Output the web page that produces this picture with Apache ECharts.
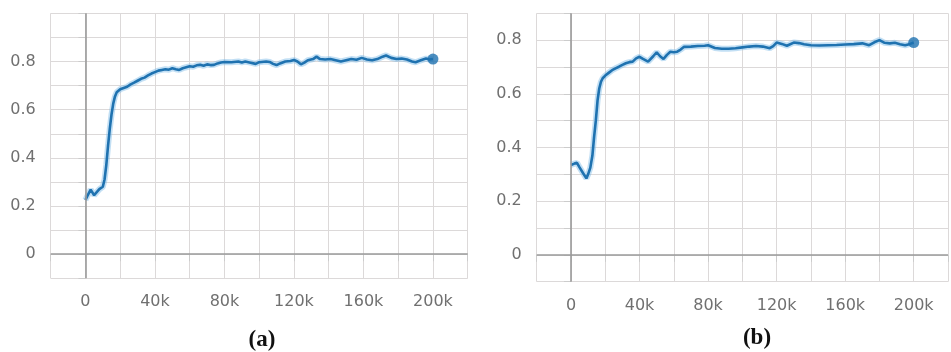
<!DOCTYPE html>
<html>
<head>
<meta charset="utf-8">
<script src="https://cdn.jsdelivr.net/npm/echarts@6/dist/echarts.min.js"></script>
<style>
html,body{margin:0;padding:0;background:#fff;}
#c{width:951px;height:352px;}
</style>
</head>
<body>
<div id="c"></div>
<script>
// ---- data (steps in thousands) ----
const stepsA = [0,1,3,5,6,8,10,11,12,13,14,15,16,17,18,20,22,24,26,28,30,32,34,36,38,40,42,44,46,48,50,52,54,56,58,60,62,64,66,68,70,72,74,76,78,80,84,88,90,92,95,98,100,104,106,108,110,112,115,118,120,122,124,126,128,131,133,135,138,141,144,147,150,153,156,159,162,165,168,171,173,176,179,182,185,188,190,193,196,198,200];
const accA = [0.225,0.24,0.268,0.245,0.24,0.27,0.28,0.31,0.37,0.45,0.52,0.58,0.625,0.655,0.672,0.685,0.69,0.695,0.705,0.712,0.72,0.728,0.733,0.742,0.75,0.756,0.762,0.765,0.768,0.766,0.772,0.768,0.765,0.772,0.776,0.78,0.778,0.784,0.786,0.782,0.788,0.785,0.786,0.792,0.796,0.798,0.797,0.8,0.796,0.8,0.795,0.79,0.797,0.8,0.798,0.79,0.785,0.792,0.8,0.802,0.806,0.8,0.788,0.795,0.805,0.81,0.82,0.81,0.808,0.81,0.805,0.8,0.805,0.81,0.807,0.815,0.808,0.805,0.81,0.82,0.825,0.815,0.81,0.812,0.808,0.8,0.797,0.805,0.812,0.808,0.81];

const stepsB = [0,2,3.5,5,7,9,10,11.3,12.5,13.5,14.5,15.5,16.5,17.5,18.5,20,22,24,26,28,30,32,34,36,38,40,42,45,48,50,52,54,56,58,60,62,64,66,70,74,78,80,84,88,92,96,100,104,108,112,116,118,120,123,126,130,133,136,140,145,150,155,160,165,170,174,177,180,183,186,189,192,195,198,200];
const accB = [0.335,0.34,0.343,0.326,0.305,0.285,0.3,0.325,0.37,0.44,0.5,0.575,0.62,0.645,0.658,0.668,0.678,0.688,0.695,0.701,0.708,0.714,0.718,0.72,0.732,0.738,0.73,0.72,0.74,0.755,0.74,0.73,0.745,0.757,0.755,0.757,0.765,0.775,0.776,0.778,0.779,0.781,0.771,0.768,0.768,0.77,0.773,0.776,0.778,0.776,0.77,0.778,0.791,0.786,0.779,0.791,0.789,0.785,0.781,0.78,0.781,0.782,0.784,0.785,0.788,0.781,0.792,0.8,0.79,0.788,0.79,0.785,0.781,0.786,0.791];

const panelLabels = ['(a)', '(b)'];

// ---- build ----
const lineColor = '#1f72b0';
const gridColor = '#dcd9d9';
const labelColor = '#707070';
const fontFam = '"DejaVu Sans", sans-serif';

function pairs(xs, ys){ return xs.map((x,i)=>[x, ys[i]]); }

function xAxisDef(idx){
  return {
    type:'value', gridIndex: idx, min:-20, max:220, interval:20,
    axisLine:{show:false},
    axisTick:{show:true, length:7, lineStyle:{color:'#cccccc'}},
    splitLine:{show:true, lineStyle:{color:gridColor, width:1}},
    axisLabel:{
      color:labelColor, fontSize:16, fontFamily:fontFam, margin:16,
      showMinLabel:true, showMaxLabel:true,
      formatter:function(v){ const r=Math.round(v); if(r<0||r%40!==0) return ''; return r===0?'0':(r+'k'); }
    }
  };
}
function yAxisDef(idx, max){
  return {
    type:'value', gridIndex: idx, min:-0.1, max:max, interval:0.1,
    axisLine:{show:false},
    axisTick:{show:true, length:7, lineStyle:{color:'#cccccc'}},
    splitLine:{show:true, lineStyle:{color:gridColor, width:1}},
    axisLabel:{
      color:labelColor, fontSize:16, fontFamily:fontFam, margin:15,
      formatter:function(v){ const r=Math.round(v*10); if(r<0||r>8||r%2!==0) return ''; return r===0?'0':(r/10).toFixed(1); }
    }
  };
}
function seriesFor(idx, xs, ys){
  const d = pairs(xs, ys);
  const last = d[d.length-1];
  return [
    { type:'line', xAxisIndex:idx, yAxisIndex:idx, data:d, showSymbol:false, symbol:'none',
      lineStyle:{color:'rgba(120,185,230,0.45)', width:6}, silent:true, z:2,
      markLine:{ silent:true, symbol:['none','none'], label:{show:false}, animation:false,
        lineStyle:{color:'#9a9a9a', type:'solid', width:1.6},
        data:[{yAxis:0},{xAxis:0}] } },
    { type:'line', xAxisIndex:idx, yAxisIndex:idx, data:d, showSymbol:false, symbol:'none',
      lineStyle:{color:lineColor, width:2.6}, z:3 },
    { type:'scatter', xAxisIndex:idx, yAxisIndex:idx, data:[last], symbolSize:11,
      itemStyle:{color:lineColor}, z:4 }
  ];
}

const chart = echarts.init(document.getElementById('c'), null, {renderer:'canvas'});
chart.setOption({
  animation:false,
  backgroundColor:'#ffffff',
  grid:[
    {left:50.7, right:483.3, top:13.3, bottom:73.7, containLabel:false},
    {left:536.7, right:-9.3, top:13.3, bottom:70.3, containLabel:false}
  ],
  xAxis:[xAxisDef(0), xAxisDef(1)],
  yAxis:[yAxisDef(0, 1.0), yAxisDef(1, 0.9)],
  series:[].concat(seriesFor(0, stepsA, accA), seriesFor(1, stepsB, accB)),
  graphic:[
    {type:'text', x:262, y:340, style:{text:panelLabels[0], fill:'#111', font:'bold 23px "Liberation Serif", "Times New Roman", serif', textAlign:'center', textVerticalAlign:'middle'}},
    {type:'text', x:757, y:338, style:{text:panelLabels[1], fill:'#111', font:'bold 23px "Liberation Serif", "Times New Roman", serif', textAlign:'center', textVerticalAlign:'middle'}}
  ]
});
</script>
</body>
</html>
